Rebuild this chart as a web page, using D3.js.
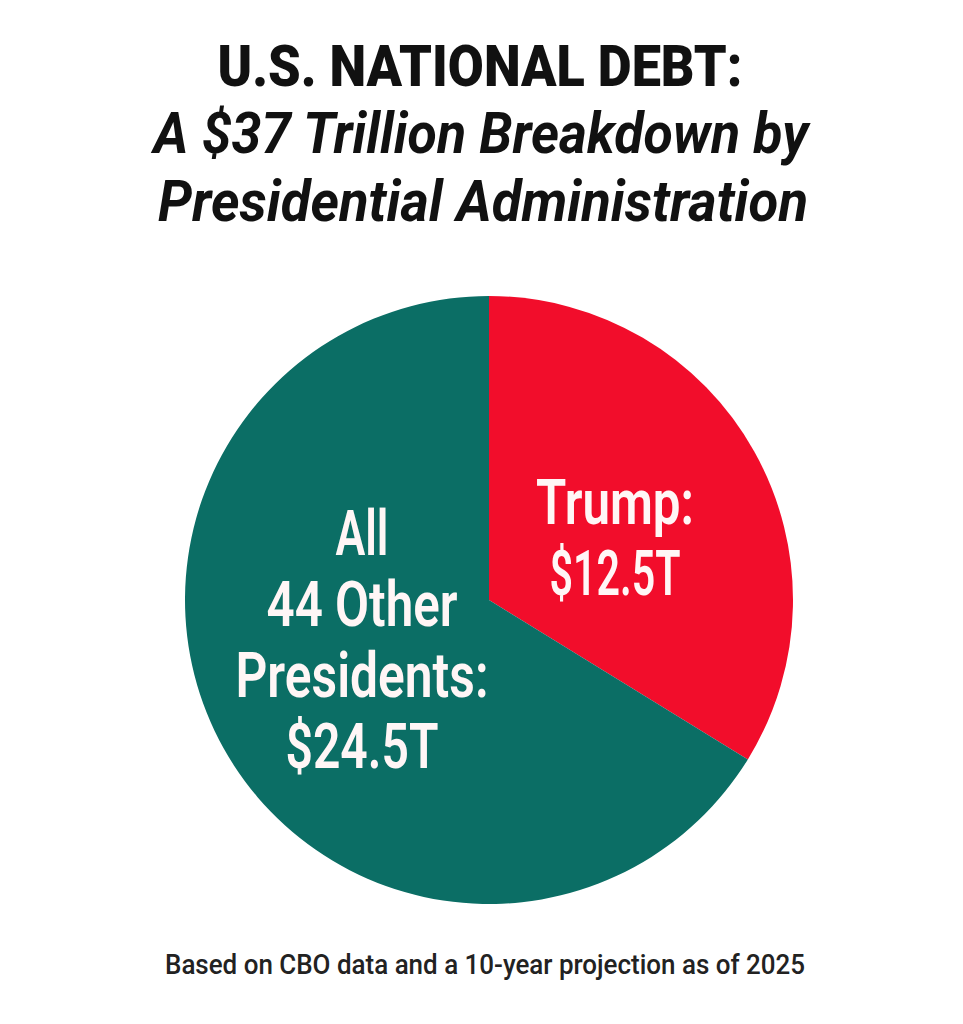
<!DOCTYPE html>
<html>
<head>
<meta charset="utf-8">
<script src="https://cdn.jsdelivr.net/npm/d3@7"></script>
<style>
  html, body { margin: 0; padding: 0; background: #fff; }
  svg { display: block; }
</style>
</head>
<body>
<div id="chart"></div>
<script>
// data
var titleLines = ["U.S. NATIONAL DEBT:", "A $37 Trillion Breakdown by", "Presidential Administration"];
var categories = ["Trump", "All 44 Other Presidents"];
var values = [12.5, 24.5];
var labelLines = [["Trump:", "$12.5T"], ["All", "44 Other", "Presidents:", "$24.5T"]];
var footnote = "Based on CBO data and a 10-year projection as of 2025";

var width = 963, height = 1024;
var cx = 489, cy = 600, radius = 304;

var svg = d3.select("#chart").append("svg")
    .attr("width", width)
    .attr("height", height);

svg.append("rect")
    .attr("width", width)
    .attr("height", height)
    .attr("fill", "#fff");

// title - squeezed to look like a condensed face
var titleSpec = [
    {y: 86, size: 57, weight: 900, style: "normal", len: 525, x: 480},
    {y: 153, size: 57, weight: 700, style: "italic", len: 655, x: 481},
    {y: 221, size: 57, weight: 700, style: "italic", len: 650, x: 483}
];
svg.selectAll(".title")
    .data(titleLines)
    .enter().append("text")
    .attr("class", "title")
    .attr("x", function (d, i) { return titleSpec[i].x; })
    .attr("y", function (d, i) { return titleSpec[i].y; })
    .attr("text-anchor", "middle")
    .attr("font-family", "Roboto, 'DejaVu Sans', sans-serif")
    .attr("font-size", function (d, i) { return titleSpec[i].size; })
    .attr("font-weight", function (d, i) { return titleSpec[i].weight; })
    .attr("font-style", function (d, i) { return titleSpec[i].style; })
    .attr("textLength", function (d, i) { return titleSpec[i].len; })
    .attr("lengthAdjust", "spacingAndGlyphs")
    .attr("fill", "#111")
    .text(function (d) { return d; });

// pie
var color = d3.scaleOrdinal()
    .domain(categories)
    .range(["#F20D2B", "#0B6E65"]);

var pie = d3.pie().sort(null).value(function (d) { return d; });
var arcs = pie(values);

var arc = d3.arc().innerRadius(0).outerRadius(radius);
var labelArc = d3.arc().innerRadius(radius * 0.49).outerRadius(radius * 0.49);

var g = svg.append("g")
    .attr("transform", "translate(" + cx + "," + cy + ")");

g.selectAll(".slice")
    .data(arcs)
    .enter().append("path")
    .attr("class", "slice")
    .attr("d", arc)
    .attr("fill", function (d, i) { return color(categories[i]); });

// labels inside slices
var lineH = 71;
var labelShift = [[-4, 10], [3, -33]];
var labelLen = [[158, 131], [53, 191, 253, 153]];

var lab = g.selectAll(".label")
    .data(arcs)
    .enter().append("g")
    .attr("class", "label")
    .attr("transform", function (d, i) {
        var c = labelArc.centroid(d);
        return "translate(" + (c[0] + labelShift[i][0]) + "," + (c[1] + labelShift[i][1]) + ")";
    });

lab.each(function (d, i) {
    var lines = labelLines[i];
    var n = lines.length;
    d3.select(this).selectAll("text")
        .data(lines)
        .enter().append("text")
        .attr("x", 0)
        .attr("y", function (t, k) { return (k - (n - 1) / 2) * lineH + 22; })
        .attr("text-anchor", "middle")
        .attr("font-family", "Roboto, 'DejaVu Sans', sans-serif")
        .attr("font-size", 63)
        .attr("font-weight", 600)
        .attr("textLength", function (t, k) { return labelLen[i][k]; })
        .attr("lengthAdjust", "spacingAndGlyphs")
        .attr("fill", "#FFF6F6")
        .text(function (t) { return t; });
});

// footnote
svg.append("text")
    .attr("x", 485)
    .attr("y", 974)
    .attr("text-anchor", "middle")
    .attr("font-family", "Roboto, 'DejaVu Sans', sans-serif")
    .attr("font-size", 27)
    .attr("font-weight", 500)
    .attr("textLength", 640)
    .attr("lengthAdjust", "spacingAndGlyphs")
    .attr("fill", "#222")
    .text(footnote);
</script>
</body>
</html>
